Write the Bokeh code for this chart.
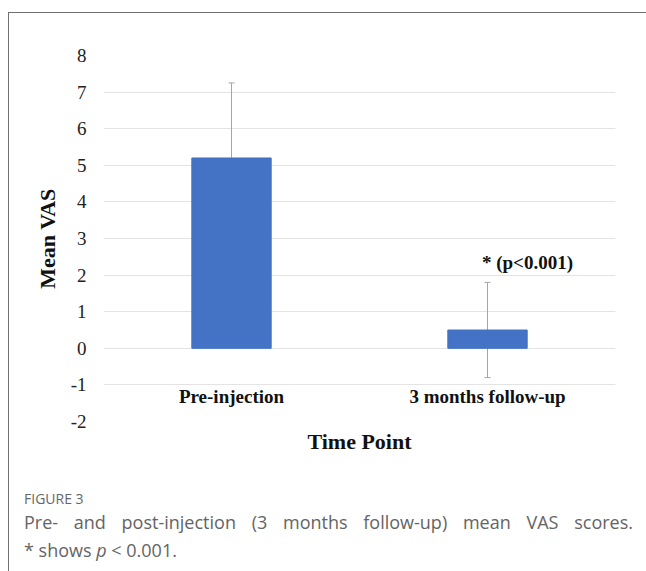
from bokeh.plotting import figure
from bokeh.models import (ColumnDataSource, Range1d, FactorRange, FixedTicker, Whisker,
                          TeeHead, Div, Title)
from bokeh.layouts import column
from bokeh.core.properties import value
from bokeh.embed import file_html
from bokeh.resources import INLINE

# ---- data ----
categories = ["Pre-injection", "3 months follow-up"]
means = [5.2, 0.5]
sds = [2.05, 1.3]
y_ticks = [-2, -1, 0, 1, 2, 3, 4, 5, 6, 7, 8]
annot_text = ["* (p<0.001)"]
annot_cat = ["3 months follow-up"]
annot_y = [2.35]

SERIF = "Liberation Serif"

src = ColumnDataSource(dict(
    cat=categories, mean=means,
    upper=[m + s for m, s in zip(means, sds)],
    lower=[m - s for m, s in zip(means, sds)],
))

p = figure(x_range=FactorRange(*categories), y_range=Range1d(-2, 8),
           width=637, height=445, output_backend="svg", toolbar_location=None,
           min_border_left=94, min_border_right=31, min_border_top=42, min_border_bottom=8)
p.outline_line_color = None
p.background_fill_color = "white"
p.border_fill_color = "white"

p.vbar(x="cat", top="mean", width=0.31, source=src, color="#4472C4")
w = Whisker(base="cat", upper="upper", lower="lower", source=src,
            line_color="#a6a6a6", line_width=1,
            upper_head=TeeHead(size=6, line_color="#a6a6a6", line_width=1),
            lower_head=TeeHead(size=6, line_color="#a6a6a6", line_width=1))
p.add_layout(w)

p.text(x=annot_cat, y=annot_y, text=annot_text, x_offset=40,
       text_align="center", text_baseline="middle",
       text_font=value(SERIF), text_font_style="bold", text_font_size="19px",
       text_color="#111111")

# y axis
p.yaxis.ticker = FixedTicker(ticks=y_ticks)
p.yaxis.major_label_overrides = {t: str(t) for t in y_ticks}
p.yaxis.axis_line_color = None
p.yaxis.major_tick_line_color = None
p.yaxis.minor_tick_line_color = None
p.yaxis.major_label_text_font = SERIF
p.yaxis.major_label_text_font_size = "19px"
p.yaxis.major_label_text_color = "#222222"
p.yaxis.major_label_standoff = 11
p.yaxis.axis_label = "Mean VAS"
p.yaxis.axis_label_text_font = SERIF
p.yaxis.axis_label_text_font_style = "bold"
p.yaxis.axis_label_text_font_size = "22px"
p.yaxis.axis_label_text_color = "#111111"
p.yaxis.axis_label_standoff = 8

# x axis placed inside frame
p.xaxis.fixed_location = -0.78
p.xaxis.axis_line_color = None
p.xaxis.major_tick_line_color = None
p.xaxis.minor_tick_line_color = None
p.xaxis.major_label_text_font = SERIF
p.xaxis.major_label_text_font_style = "bold"
p.xaxis.major_label_text_font_size = "19px"
p.xaxis.major_label_text_color = "#111111"
p.xaxis.major_label_standoff = 3

p.xgrid.grid_line_color = None
p.ygrid.grid_line_color = "#e3e3e3"
p.ygrid.grid_line_width = 1

p.add_layout(Title(text="Time Point", align="center", text_font=SERIF,
                   text_font_style="bold", text_font_size="22px",
                   text_color="#111111"), "below")

cap = Div(text=(
    "<div style=\"font-family:'Open Sans';color:#646464;padding-left:10px;"
    "box-sizing:content-box;width:609px;\">"
    "<div style='font-size:14px;line-height:20px;margin-top:26px;color:#666666'>FIGURE 3</div>"
    "<div style='font-size:18px;line-height:27px;text-align:justify;text-align-last:justify;'>"
    "Pre- and post-injection (3 months follow-up) mean VAS scores.</div>"
    "<div style='font-size:18px;line-height:28px;'>* shows <i>p</i> &lt; 0.001.</div>"
    "</div>"), width=637, height=110)

layout = column(p, cap, styles={"border-top": "1px solid #707070",
                                 "border-left": "1px solid #707070",
                                 "margin": "12px 0 0 8px", "background": "white"})

open("out.html", "w").write(file_html(layout, INLINE))
